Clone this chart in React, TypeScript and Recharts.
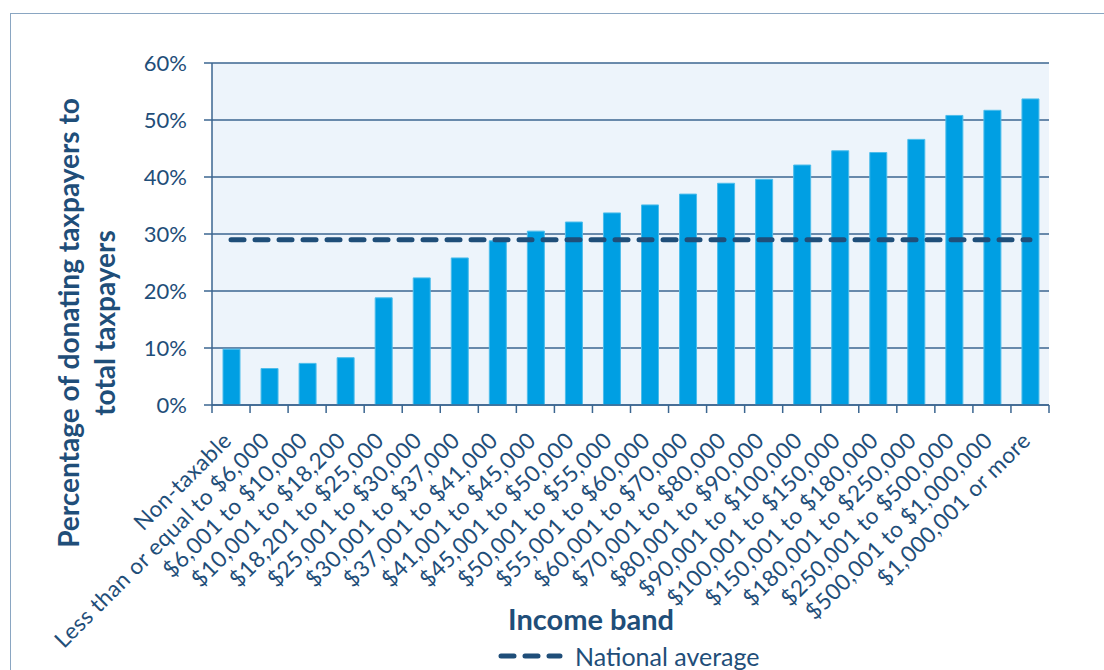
import {
  ComposedChart,
  Bar,
  Line,
  XAxis,
  YAxis,
  CartesianGrid,
  Legend,
} from 'recharts';

const INCOME_BANDS = [
  'Non-taxable',
  'Less than or equal to $6,000',
  '$6,001 to $10,000',
  '$10,001 to $18,200',
  '$18,201 to $25,000',
  '$25,001 to $30,000',
  '$30,001 to $37,000',
  '$37,001 to $41,000',
  '$41,001 to $45,000',
  '$45,001 to $50,000',
  '$50,001 to $55,000',
  '$55,001 to $60,000',
  '$60,001 to $70,000',
  '$70,001 to $80,000',
  '$80,001 to $90,000',
  '$90,001 to $100,000',
  '$100,001 to $150,000',
  '$150,001 to $180,000',
  '$180,001 to $250,000',
  '$250,001 to $500,000',
  '$500,001 to $1,000,000',
  '$1,000,001 or more',
];

const DONATING_PCT = [
  9.8, 6.4, 7.3, 8.3, 18.8, 22.3, 25.8, 28.8, 30.5, 32.1, 33.7, 35.1, 37.0,
  38.9, 39.6, 42.1, 44.6, 44.3, 46.6, 50.8, 51.7, 53.7,
];

const NATIONAL_AVERAGE = 29;

const Y_TICKS = [0, 10, 20, 30, 40, 50, 60];

const data = INCOME_BANDS.map((band, i) => ({
  band,
  pct: DONATING_PCT[i],
  avg: NATIONAL_AVERAGE,
}));

const FONT = 'Lato, "Open Sans", sans-serif';
const TEXT = '#1f4e79';
const AXIS = '#3b6690';

function BandTick(props: any) {
  const { x, y, payload, index } = props;
  const half = payload && payload.offset ? payload.offset : 19;
  const last = index === INCOME_BANDS.length - 1;
  return (
    <g>
      <line x1={x - half} y1={y - 8} x2={x - half} y2={y} stroke={AXIS} strokeWidth={1.5} />
      {last && (
        <line x1={x + half} y1={y - 8} x2={x + half} y2={y} stroke={AXIS} strokeWidth={1.5} />
      )}
      <text
        transform={`translate(${x - 4},${y + 23}) rotate(-45)`}
        textAnchor="end"
        dominantBaseline="central"
        fill={TEXT}
        fontSize={22.5}
        letterSpacing={0.45}
        fontFamily={FONT}
      >
        {payload.value}
      </text>
    </g>
  );
}

function YTitle(props: any) {
  return (
    <text
      transform="translate(86,323) rotate(-90)"
      textAnchor="middle"
      fill={TEXT}
      fontSize={28}
      fontWeight={700}
      fontFamily={FONT}
    >
      <tspan x={0} dy={-7}>Percentage of donating taxpayers to</tspan>
      <tspan x={0} dy={36}>total taxpayers</tspan>
    </text>
  );
}

function XTitle() {
  return (
    <text
      x={591}
      y={630}
      textAnchor="middle"
      fill={TEXT}
      fontSize={29}
      fontWeight={700}
      fontFamily={FONT}
    >
      Income band
    </text>
  );
}

function LegendContent() {
  return (
    <div style={{ height: 0, overflow: 'visible', position: 'relative' }}>
      <div
        style={{
          position: 'absolute',
          left: 490,
          top: 0,
          display: 'flex',
          alignItems: 'center',
          whiteSpace: 'nowrap',
        }}
      >
        <svg width={80} height={24}>
          <line
            x1={11}
            y1={12}
            x2={70}
            y2={12}
            stroke={TEXT}
            strokeWidth={5}
            strokeDasharray="13 11"
            strokeLinecap="round"
          />
        </svg>
        <span style={{ color: TEXT, fontSize: 25, fontFamily: FONT, marginLeft: 5 }}>
          National average
        </span>
      </div>
    </div>
  );
}

export default function App() {
  return (
    <div
      style={{
        position: 'absolute',
        left: 0,
        top: 0,
        width: 1104,
        height: 670,
        overflow: 'hidden',
        background: '#fff',
      }}
    >
      <div
        style={{
          position: 'absolute',
          left: 10,
          top: 13,
          width: 1200,
          height: 800,
          borderLeft: '1.5px solid #8aa6c2',
          borderTop: '1.5px solid #8aa6c2',
        }}
      />
      <div style={{ position: 'absolute', left: 0, top: 0 }}>
        <ComposedChart
          width={1104}
          height={670}
          data={data}
          margin={{ top: 63, right: 55, bottom: 0, left: 0 }}
        >
          <CartesianGrid
            vertical={false}
            stroke={AXIS}
            strokeWidth={1.3}
            fill="#edf4fb"
            fillOpacity={1}
          />
          <XAxis
            dataKey="band"
            interval={0}
            height={265}
            tickLine={false}
            axisLine={{ stroke: AXIS, strokeWidth: 1.5 }}
            tick={<BandTick />}
            label={<XTitle />}
          />
          <YAxis
            width={212}
            domain={[0, 60]}
            ticks={Y_TICKS}
            tickFormatter={(v) => `${v}%`}
            tickSize={8}
            tickMargin={17}
            tickLine={{ stroke: AXIS, strokeWidth: 1.5 }}
            axisLine={{ stroke: AXIS, strokeWidth: 1.5 }}
            tick={{ fill: TEXT, fontSize: 22, fontFamily: FONT }}
            label={<YTitle />}
          />
          <YAxis
            yAxisId="edge"
            orientation="right"
            width={0}
            domain={[0, 60]}
            tick={false}
            tickLine={false}
            axisLine={{ stroke: '#8aa6c2', strokeWidth: 1.5 }}
          />
          <Legend
            verticalAlign="bottom"
            align="left"
            wrapperStyle={{ top: 641, left: 0, width: 1104, height: 0 }}
            content={<LegendContent />}
          />
          <Bar
            dataKey="pct"
            name="Donating taxpayers"
            fill="#009fe3"
            stroke="#4dbdeb"
            strokeWidth={1}
            barSize={17}
            isAnimationActive={false}
          />
          <Line
            dataKey="avg"
            name="National average"
            stroke={TEXT}
            strokeWidth={5}
            strokeDasharray="13 11"
            strokeLinecap="round"
            dot={false}
            activeDot={false}
            isAnimationActive={false}
          />
        </ComposedChart>
      </div>
    </div>
  );
}
